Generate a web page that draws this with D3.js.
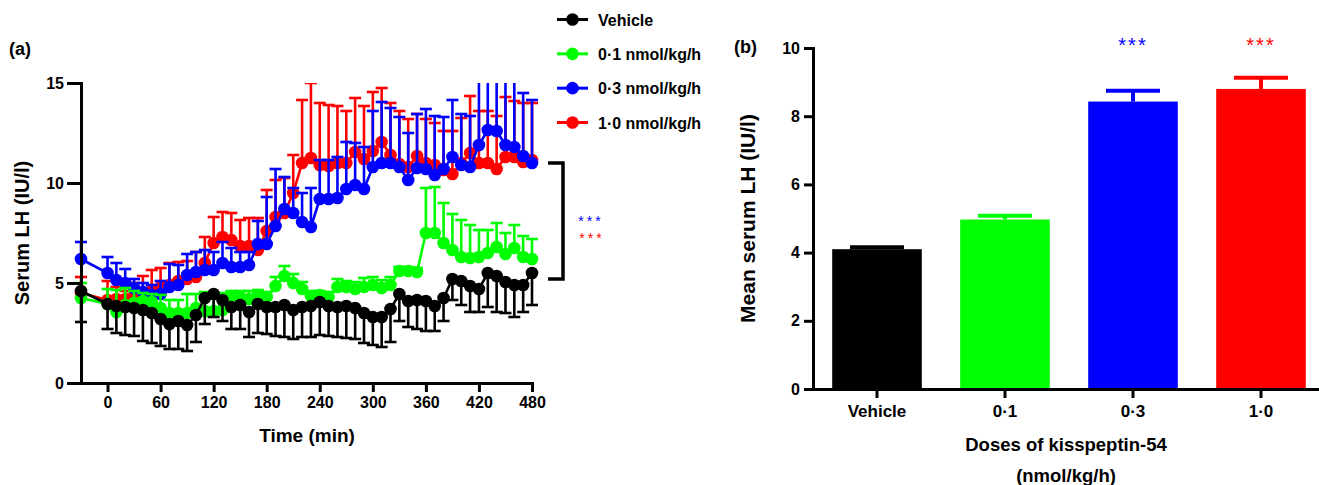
<!DOCTYPE html>
<html>
<head>
<meta charset="utf-8">
<script src="https://cdn.jsdelivr.net/npm/d3@7"></script>
<style>
  body { margin: 0; background: #fff; }
  svg { display: block; }
  text { font-family: "Liberation Sans", Arial, sans-serif; font-weight: bold; fill: #000; }
</style>
</head>
<body>
<svg id="chart" width="1319" height="485"></svg>
<script>
// ---- DATA ----
const times = [-30, 0, 10, 20, 30, 40, 50, 60, 70, 80, 90, 100, 110, 120, 130, 140, 150, 160, 170, 180,
  190, 200, 210, 220, 230, 240, 250, 260, 270, 280, 290, 300, 310, 320, 330, 340, 350, 360, 370, 380,
  390, 400, 410, 420, 430, 440, 450, 460, 470, 480];

const vehicleMean = [4.6, 3.95, 3.85, 3.8, 3.75, 3.65, 3.5, 3.2, 2.95, 3.1, 2.9, 3.4, 4.25, 4.45, 4.15, 3.8, 3.9, 3.55, 3.95, 3.8,
  3.8, 3.9, 3.65, 3.8, 3.85, 4.05, 3.85, 3.8, 3.85, 3.75, 3.5, 3.3, 3.3, 3.7, 4.45, 4.1, 4.15, 4.1, 3.85, 4.25,
  5.2, 5.1, 4.85, 4.7, 5.5, 5.35, 5.05, 4.9, 4.9, 5.5];
const vehicleLow = [3.05, 2.7, 2.5, 2.4, 2.35, 2.1, 2.0, 1.85, 1.7, 1.7, 1.6, 2.05, 2.95, 3.3, 3.1, 2.7, 2.7, 2.3, 2.5, 2.45,
  2.35, 2.3, 2.2, 2.3, 2.3, 2.4, 2.35, 2.3, 2.25, 2.2, 2.0, 1.9, 1.8, 2.05, 3.1, 2.8, 2.7, 2.6, 2.6, 3.1,
  4.15, 3.9, 3.55, 3.55, 3.8, 3.55, 3.5, 3.3, 3.55, 3.9];

const dose01Mean = [4.25, 3.95, 3.55, 3.9, 4.0, 4.1, 4.05, 3.75, 3.5, 3.5, 3.5, 3.75, 3.6, 3.6, 3.65, 4.35, 4.3, 4.2, 4.4, 4.3,
  4.85, 5.35, 5.0, 4.7, 4.35, 4.4, 4.3, 4.8, 4.8, 4.7, 4.8, 4.9, 4.75, 4.9, 5.6, 5.6, 5.55, 7.5, 7.5, 7.0,
  6.65, 6.3, 6.25, 6.3, 6.5, 6.8, 6.45, 6.75, 6.3, 6.2];
const dose01High = [5.0, 4.7, 4.65, 4.75, 4.6, 4.5, 4.45, 4.4, 4.15, 4.15, 4.45, 4.45, 4.55, 4.5, 4.5, 4.6, 4.6, 4.6, 4.65, 4.55,
  5.3, 5.85, 5.45, 5.05, 4.6, 4.6, 4.55, 5.2, 5.1, 5.05, 5.25, 5.3, 5.15, 5.3, 5.8, 5.8, 5.75, 9.75, 9.8, 9.0,
  8.45, 8.15, 7.9, 7.65, 7.65, 8.0, 7.5, 7.9, 7.35, 7.2];

const dose03Mean = [6.2, 5.5, 5.15, 5.0, 4.75, 4.55, 4.4, 4.45, 4.8, 4.9, 5.4, 5.55, 5.65, 5.65, 6.0, 5.8, 5.8, 5.9, 6.95, 6.95,
  7.85, 8.7, 8.5, 8.05, 7.8, 9.2, 9.2, 9.25, 9.7, 9.9, 9.7, 10.8, 11.0, 11.0, 10.8, 10.15, 10.75, 10.7, 10.4, 10.7,
  11.3, 10.9, 10.8, 11.9, 12.65, 12.6, 11.9, 11.8, 11.35, 11.0];
const dose03High = [7.05, 6.3, 6.0, 5.7, 5.2, 5.0, 4.9, 5.1, 5.95, 5.9, 6.45, 6.55, 6.65, 6.55, 7.05, 6.75, 6.55, 6.55, 8.1, 9.3,
  10.7, 10.3, 9.75, 9.5, 9.75, 11.15, 11.15, 11.3, 12.05, 12.0, 11.8, 13.6, 14.05, 13.75, 13.3, 12.5, 13.45, 13.7, 13.35, 13.3,
  14.15, 13.45, 13.35, 16.5, 16.5, 16.5, 16.5, 16.5, 14.5, 14.15];

const dose10Mean = [4.5, 4.15, 4.2, 4.2, 4.35, 4.5, 4.65, 4.8, 4.9, 5.1, 5.2, 5.3, 6.0, 7.0, 7.3, 7.15, 6.85, 6.85, 6.65, 7.6,
  8.3, 8.5, 9.5, 11.0, 11.25, 10.9, 10.85, 11.0, 11.0, 11.55, 11.2, 11.6, 12.05, 11.4, 10.95, 10.8, 11.35, 11.0, 10.9, 10.65,
  10.45, 11.0, 11.5, 11.0, 11.0, 10.7, 11.3, 11.3, 11.05, 11.15];
const dose10High = [5.3, 5.1, 4.8, 4.6, 5.0, 5.35, 5.65, 5.75, 6.0, 6.05, 6.1, 6.55, 7.3, 8.3, 8.55, 8.5, 8.15, 8.25, 8.25, 9.65,
  10.15, 10.25, 11.4, 14.15, 15.0, 14.0, 13.9, 13.85, 13.6, 14.25, 13.85, 14.55, 14.75, 14.0, 13.6, 13.2, 13.45, 13.2, 13.0, 12.6,
  12.6, 13.25, 14.35, 13.6, 13.6, 13.35, 14.3, 14.1, 14.0, 14.0];

const seriesLabels = ['Vehicle', '0·1 nmol/kg/h', '0·3 nmol/kg/h', '1·0 nmol/kg/h'];
const seriesColors = ['#000000', '#00ff00', '#0000ff', '#ff0000'];

const timeTicks = [0, 60, 120, 180, 240, 300, 360, 420, 480];
const lhTicks = [0, 5, 10, 15];
const bracketRange = [5.2, 11.0];

const barLabels = ['Vehicle', '0·1', '0·3', '1·0'];
const barMeans = [4.1, 4.97, 8.43, 8.8];
const barHigh = [4.16, 5.08, 8.75, 9.13];
const barStars = ['', '', '***', '***'];
const meanTicks = [0, 2, 4, 6, 8, 10];

// ---- SETUP ----
const svg = d3.select('#chart');

const series = [
  { mean: vehicleMean, err: vehicleLow },
  { mean: dose01Mean, err: dose01High },
  { mean: dose03Mean, err: dose03High },
  { mean: dose10Mean, err: dose10High },
].map((s, i) => ({
  ...s,
  label: seriesLabels[i],
  color: seriesColors[i],
  points: times.map((t, j) => ({ t, m: s.mean[j], e: s.err[j] })),
}));

function styleAxis(g, width, fontSize) {
  g.select('.domain').attr('stroke', '#000').attr('stroke-width', width).attr('stroke-linecap', 'square');
  g.selectAll('.tick line').attr('stroke', '#000').attr('stroke-width', width);
  g.selectAll('.tick text')
    .style('font-family', '"Liberation Sans", Arial, sans-serif')
    .style('font-weight', 'bold')
    .style('font-size', fontSize)
    .attr('fill', '#000');
}

// ---- PANEL A ----
const x = d3.scaleLinear().domain([-30, 480]).range([81, 532]);
const y = d3.scaleLinear().domain([0, 15]).range([383, 83]);

svg.append('clipPath').attr('id', 'clipA')
  .append('rect').attr('x', 60).attr('y', y(15)).attr('width', 500).attr('height', 340);

const plotA = svg.append('g').attr('clip-path', 'url(#clipA)');

// last group on the bottom, vehicle on top
for (const s of series.slice().reverse()) {
  const g = plotA.append('g');

  const bars = g.selectAll('.err').data(s.points).join('g');
  bars.append('line')
    .attr('x1', (d) => x(d.t)).attr('x2', (d) => x(d.t))
    .attr('y1', (d) => y(d.m)).attr('y2', (d) => y(d.e))
    .attr('stroke', s.color).attr('stroke-width', 2.6);
  bars.append('line')
    .attr('x1', (d) => x(d.t) - 6).attr('x2', (d) => x(d.t) + 6)
    .attr('y1', (d) => y(d.e)).attr('y2', (d) => y(d.e))
    .attr('stroke', s.color).attr('stroke-width', 2.6);

  g.append('path')
    .datum(s.points)
    .attr('fill', 'none')
    .attr('stroke', s.color)
    .attr('stroke-width', 2.6)
    .attr('d', d3.line().x((d) => x(d.t)).y((d) => y(d.m)));

  g.selectAll('circle').data(s.points).join('circle')
    .attr('cx', (d) => x(d.t)).attr('cy', (d) => y(d.m))
    .attr('r', 6.3).attr('fill', s.color);
}

svg.append('g')
  .attr('transform', `translate(${x(-30)},0)`)
  .call(d3.axisLeft(y).tickValues(lhTicks).tickSize(14).tickSizeOuter(0).tickPadding(3))
  .call((g) => styleAxis(g, 3, '16px'));

svg.append('g')
  .attr('transform', `translate(0,${y(0)})`)
  .call(d3.axisBottom(x).tickValues(timeTicks).tickSize(9).tickSizeOuter(0).tickPadding(5))
  .call((g) => styleAxis(g, 3, '16px'));

svg.append('text').attr('x', 307).attr('y', 442).attr('text-anchor', 'middle')
  .style('font-size', '19px').text('Time (min)');

svg.append('text')
  .attr('transform', `translate(29,${y(7.5)}) rotate(-90)`)
  .attr('text-anchor', 'middle')
  .style('font-size', '20px').text('Serum LH (IU/l)');

svg.append('text').attr('x', 9).attr('y', 55).style('font-size', '18px').text('(a)');

// bracket
const bx = 563;
svg.append('path')
  .attr('fill', 'none').attr('stroke', '#000').attr('stroke-width', 3.5)
  .attr('d', `M${bx - 15},${y(bracketRange[1])}H${bx}V${y(bracketRange[0])}H${bx - 15}`);

svg.append('text').attr('x', 591).attr('y', 226).attr('text-anchor', 'middle')
  .style('font-size', '14px').style('font-weight', 'normal').style('letter-spacing', '3px')
  .style('fill', seriesColors[2]).text('***');
svg.append('text').attr('x', 592).attr('y', 243).attr('text-anchor', 'middle')
  .style('font-size', '14px').style('font-weight', 'normal').style('letter-spacing', '3px')
  .style('fill', seriesColors[3]).text('***');

// legend
const legend = svg.append('g');
const ly = d3.scalePoint().domain(seriesLabels).range([19.5, 122.5]);
series.forEach((s) => {
  const row = legend.append('g').attr('transform', `translate(0,${ly(s.label)})`);
  row.append('line').attr('x1', 557).attr('x2', 588).attr('stroke', s.color).attr('stroke-width', 3);
  row.append('circle').attr('cx', 572.5).attr('r', 6.3).attr('fill', s.color);
  row.append('text').attr('x', 598).attr('y', 6).style('font-size', '16px').text(s.label);
});

// ---- PANEL B ----
const xb = d3.scaleBand().domain(barLabels).range([813, 1325]).paddingInner(0.3).paddingOuter(0.15);
const yb = d3.scaleLinear().domain([0, 10]).range([389, 48]);

const bars = svg.append('g').selectAll('g').data(barLabels).join('g');

bars.append('line')
  .attr('x1', (d) => xb(d) + xb.bandwidth() / 2).attr('x2', (d) => xb(d) + xb.bandwidth() / 2)
  .attr('y1', (d, i) => yb(barMeans[i])).attr('y2', (d, i) => yb(barHigh[i]))
  .attr('stroke', (d, i) => seriesColors[i]).attr('stroke-width', 4);
bars.append('line')
  .attr('x1', (d) => xb(d) + xb.bandwidth() / 2 - 27).attr('x2', (d) => xb(d) + xb.bandwidth() / 2 + 27)
  .attr('y1', (d, i) => yb(barHigh[i])).attr('y2', (d, i) => yb(barHigh[i]))
  .attr('stroke', (d, i) => seriesColors[i]).attr('stroke-width', 4);
bars.append('rect')
  .attr('x', (d) => xb(d)).attr('width', xb.bandwidth())
  .attr('y', (d, i) => yb(barMeans[i])).attr('height', (d, i) => yb(0) - yb(barMeans[i]))
  .attr('fill', (d, i) => seriesColors[i]);
bars.append('text')
  .attr('x', (d) => xb(d) + xb.bandwidth() / 2).attr('y', 52)
  .attr('text-anchor', 'middle')
  .style('font-size', '20px').style('font-weight', 'normal').style('letter-spacing', '2px')
  .style('fill', (d, i) => seriesColors[i])
  .text((d, i) => barStars[i]);

svg.append('g')
  .attr('transform', `translate(813,0)`)
  .call(d3.axisLeft(yb).tickValues(meanTicks).tickSize(9).tickSizeOuter(0).tickPadding(4))
  .call((g) => styleAxis(g, 3, '16px'));

svg.append('g')
  .attr('transform', `translate(0,${yb(0)})`)
  .call(d3.axisBottom(xb).tickSize(9).tickSizeOuter(0).tickPadding(7))
  .call((g) => styleAxis(g, 3, '17px'));

svg.append('text')
  .attr('transform', `translate(755,${yb(5)}) rotate(-90)`)
  .attr('text-anchor', 'middle')
  .style('font-size', '21px').text('Mean serum LH (IU/l)');

svg.append('text').attr('x', 1066).attr('y', 451).attr('text-anchor', 'middle')
  .style('font-size', '18.5px').text('Doses of kisspeptin-54');
svg.append('text').attr('x', 1066).attr('y', 482).attr('text-anchor', 'middle')
  .style('font-size', '18.5px').text('(nmol/kg/h)');

svg.append('text').attr('x', 734).attr('y', 53).style('font-size', '18px').text('(b)');
</script>
</body>
</html>
